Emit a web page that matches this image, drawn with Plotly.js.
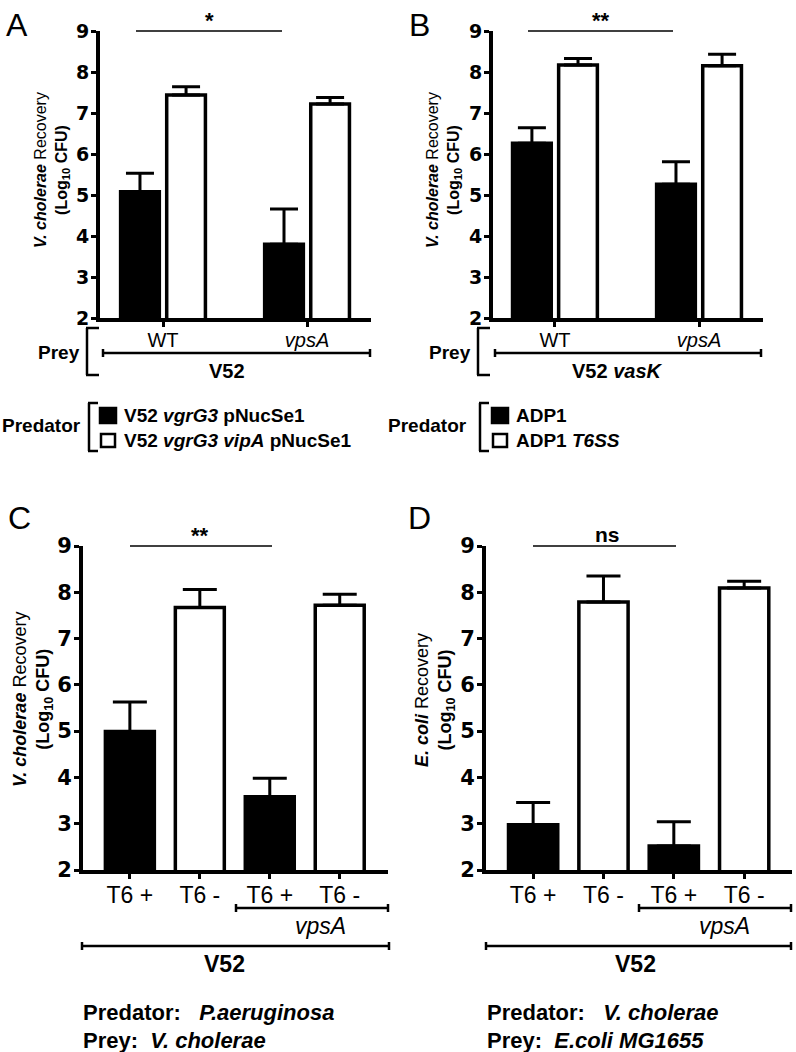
<!DOCTYPE html>
<html>
<head>
<meta charset="utf-8">
<script src="https://cdn.plot.ly/plotly-3.0.1.min.js"></script>
<style>html,body{margin:0;padding:0;background:#fff;}#chart{width:796px;height:1052px;}</style>
</head>
<body>
<div id="chart"></div>
<script>
// ---------- data ----------
const abCategories = ['WT', 'vpsA'];
const abTickText = ['WT', '<i>vpsA</i>'];
const aBlack = [5.08, 3.80];
const aBlackErr = [0.45, 0.86];
const aWhite = [7.44, 7.22];
const aWhiteErr = [0.20, 0.16];
const bBlack = [6.26, 5.26];
const bBlackErr = [0.38, 0.55];
const bWhite = [8.17, 8.15];
const bWhiteErr = [0.16, 0.28];
const cdCategories = ['V52 T6 +', 'V52 T6 -', 'vpsA T6 +', 'vpsA T6 -'];
const cdTickText = ['T6 +', 'T6 -', 'T6 +', 'T6 -'];
const cValues = [4.99, 7.67, 3.58, 7.72];
const cErr = [0.64, 0.39, 0.40, 0.24];
const dValues = [2.98, 7.79, 2.52, 8.09];
const dErr = [0.48, 0.56, 0.52, 0.15];
const yTickVals = [2, 3, 4, 5, 6, 7, 8, 9];
const sigLabels = ['*', '**', '**', 'ns'];
const panelLetters = ['A', 'B', 'C', 'D'];

// ---------- helpers ----------
const W = 796, H = 1052;
const X = p => p / W;
const Y = p => 1 - p / H;
const FONT = 'Liberation Sans, Arial, Helvetica, sans-serif';
const TICKFONT = 'DejaVu Sans, Liberation Sans, Arial, sans-serif';
const zeros = n => new Array(n).fill(0);

function seg(x0, y0, x1, y1, w) {
  return {type: 'line', xref: 'paper', yref: 'paper', x0: X(x0), y0: Y(y0), x1: X(x1), y1: Y(y1),
          line: {color: 'black', width: w || 2}};
}
function capped(x0, x1, y, h) {
  h = h || 4;
  return [seg(x0, y, x1, y, 2.5), seg(x0, y - h, x0, y + h, 2.5), seg(x1, y - h, x1, y + h, 2.5)];
}
function bracket(x, y0, y1, xr) {
  return [seg(x, y0, x, y1, 2.5), seg(x - 1, y0, xr, y0, 2.5), seg(x - 1, y1, xr, y1, 2.5)];
}
function rect(x0, y0, x1, y1, fill) {
  return {type: 'rect', xref: 'paper', yref: 'paper', x0: X(x0), y0: Y(y0), x1: X(x1), y1: Y(y1),
          fillcolor: fill, line: {color: 'black', width: 2.5}};
}
function ann(text, x, y, size, opt) {
  opt = opt || {};
  return Object.assign({text: text, xref: 'paper', yref: 'paper', x: X(x), y: Y(y), showarrow: false,
    xanchor: 'center', yanchor: 'middle', font: {family: FONT, size: size, color: 'black'}}, opt);
}

// ---------- traces ----------
function barTrace(xs, ys, errs, color, xa, ya, capw, width) {
  const t = {type: 'bar', x: xs, y: ys, xaxis: xa, yaxis: ya, showlegend: false,
    marker: {color: color, line: {color: 'black', width: 3.5}},
    error_y: {type: 'data', symmetric: false, array: errs, arrayminus: zeros(errs.length),
              color: 'black', thickness: 3, width: capw}};
  if (width) t.width = width;
  return t;
}
const traces = [
  barTrace(abCategories, aBlack, aBlackErr, 'black', 'x', 'y', 14),
  barTrace(abCategories, aWhite, aWhiteErr, 'white', 'x', 'y', 14),
  barTrace(abCategories, bBlack, bBlackErr, 'black', 'x2', 'y2', 14),
  barTrace(abCategories, bWhite, bWhiteErr, 'white', 'x2', 'y2', 14),
  barTrace(cdCategories, cValues, cErr, ['black', 'white', 'black', 'white'], 'x3', 'y3', 17, 0.7),
  barTrace(cdCategories, dValues, dErr, ['black', 'white', 'black', 'white'], 'x4', 'y4', 17, 0.7)
];

// ---------- axes ----------
function xAxis(cats, text, px0, px1, range, fs, anchor) {
  return {domain: [X(px0), X(px1)], anchor: anchor, type: 'category', range: range,
    tickvals: cats, ticktext: text, showline: true, linecolor: 'black', linewidth: 4,
    ticks: 'outside', ticklen: 5, tickwidth: 3, tickcolor: 'black', ticklabelstandoff: -4,
    tickfont: {family: FONT, size: fs, color: 'black'}, showgrid: false, zeroline: false, fixedrange: true};
}
function yAxis(pyTop, pyBot, fs, anchor) {
  return {domain: [Y(pyBot), Y(pyTop)], anchor: anchor, range: [2, 9], tickvals: yTickVals,
    showline: true, linecolor: 'black', linewidth: 4, ticks: 'outside', ticklen: 5, tickwidth: 3,
    tickcolor: 'black', ticklabelstandoff: -2,
    tickfont: {family: TICKFONT, size: fs, color: 'black', weight: 'bold'},
    showgrid: false, zeroline: false, fixedrange: true};
}

// ---------- shapes ----------
let shapes = [];
// A
shapes.push(seg(136, 31, 282, 31, 1.5));
shapes = shapes.concat(bracket(87, 328, 375, 99));
shapes = shapes.concat(capped(103, 370, 353));
shapes = shapes.concat(bracket(89, 403, 451, 98));
shapes.push(rect(100, 408, 116, 423, 'black'));
shapes.push(rect(101, 434, 115, 447, 'white'));
// B
shapes.push(seg(528, 31, 673, 31, 1.5));
shapes = shapes.concat(bracket(478, 328, 375, 490));
shapes = shapes.concat(capped(495, 761, 353));
shapes = shapes.concat(bracket(480, 403, 451, 489));
shapes.push(rect(492, 408, 508, 423, 'black'));
shapes.push(rect(493, 434, 507, 447, 'white'));
// C
shapes.push(seg(130, 546, 272, 546, 1.5));
shapes = shapes.concat(capped(236, 388, 908));
shapes = shapes.concat(capped(82, 389, 946));
// D
shapes.push(seg(533, 546, 676, 546, 1.5));
shapes = shapes.concat(capped(639, 791, 908));
shapes = shapes.concat(capped(486, 791, 946));

// ---------- annotations ----------
const NB = '\u00a0';
const vcTitle = '<b><i>V. cholerae</i></b> Recovery<br><b>(Log<sub>10</sub> CFU)</b>';
const ecTitle = '<b><i>E. coli</i></b> Recovery<br><b>(Log<sub>10</sub> CFU)</b>';
const annotations = [
  ann(panelLetters[0], 17, 25, 32),
  ann(panelLetters[1], 419, 25, 32),
  ann(panelLetters[2], 19, 518, 32),
  ann(panelLetters[3], 420, 518, 32),
  ann('<b>' + sigLabels[0] + '</b>', 209, 21, 22),
  ann('<b>' + sigLabels[1] + '</b>', 601, 21, 22),
  ann('<b>' + sigLabels[2] + '</b>', 200, 535, 22),
  ann('<b>' + sigLabels[3] + '</b>', 607, 534, 21),
  ann(vcTitle, 52, 170, 16, {textangle: -90}),
  ann(vcTitle, 444, 170, 16, {textangle: -90}),
  ann(vcTitle, 33, 700, 18, {textangle: -90}),
  ann(ecTitle, 435, 700, 18, {textangle: -90}),
  // A legend
  ann('<b>Prey</b>', 82, 352, 19, {xanchor: 'right'}),
  ann('<b>V52</b>', 227, 371, 20),
  ann('<b>Predator</b>', 83, 425, 19, {xanchor: 'right'}),
  ann('<b>V52' + NB + '<i>vgrG3</i> pNucSe1</b>', 122, 415, 19, {xanchor: 'left'}),
  ann('<b>V52 <i>vgrG3 vipA</i>' + NB + 'pNucSe1</b>', 122, 441, 19, {xanchor: 'left'}),
  // B legend
  ann('<b>Prey</b>', 473, 352, 19, {xanchor: 'right'}),
  ann('<b>V52 <i>vasK</i></b>', 617, 371, 20),
  ann('<b>Predator</b>', 469, 425, 19, {xanchor: 'right'}),
  ann('<b>ADP1</b>', 514, 415, 19, {xanchor: 'left'}),
  ann('<b>ADP1 <i>T6SS</i></b>', 514, 441, 19, {xanchor: 'left'}),
  // C
  ann('<i>vpsA</i>', 320, 926, 23),
  ann('<b>V52</b>', 225, 964, 23),
  ann('<b>Predator:</b>' + NB + NB + NB + '<b><i>P.aeruginosa</i></b>', 81, 1012, 22, {xanchor: 'left'}),
  ann('<b>Prey:</b>' + NB + NB + '<b><i>V. cholerae</i></b>', 81, 1040, 22, {xanchor: 'left'}),
  // D
  ann('<i>vpsA</i>', 724, 926, 23),
  ann('<b>V52</b>', 635, 964, 23),
  ann('<b>Predator:</b>' + NB + NB + NB + '<b><i>V. cholerae</i></b>', 485, 1012, 22, {xanchor: 'left'}),
  ann('<b>Prey:</b>' + NB + NB + '<b><i>E.coli MG1655</i></b>', 485, 1040, 22, {xanchor: 'left'})
];

const layout = {
  width: W, height: H, margin: {l: 0, r: 0, t: 0, b: 0, pad: 0},
  paper_bgcolor: 'white', plot_bgcolor: 'white', showlegend: false,
  barmode: 'group', bargap: 0.36, bargroupgap: 0.16,
  font: {family: FONT, color: 'black'},
  xaxis: xAxis(abCategories, abTickText, 100, 371, [-0.4375, 1.444], 20, 'y'),
  yaxis: yAxis(31, 318, 19, 'x'),
  xaxis2: xAxis(abCategories, abTickText, 493, 763, [-0.43, 1.444], 20, 'y2'),
  yaxis2: yAxis(31, 318, 19, 'x2'),
  xaxis3: xAxis(cdCategories, cdTickText, 83, 388, [-0.67, 3.69], 23, 'y3'),
  yaxis3: yAxis(546, 870, 21, 'x3'),
  xaxis4: xAxis(cdCategories, cdTickText, 486, 792, [-0.67, 3.68], 23, 'y4'),
  yaxis4: yAxis(546, 870, 21, 'x4'),
  shapes: shapes,
  annotations: annotations
};

Plotly.newPlot('chart', traces, layout, {displayModeBar: false, staticPlot: true});
</script>
</body>
</html>
